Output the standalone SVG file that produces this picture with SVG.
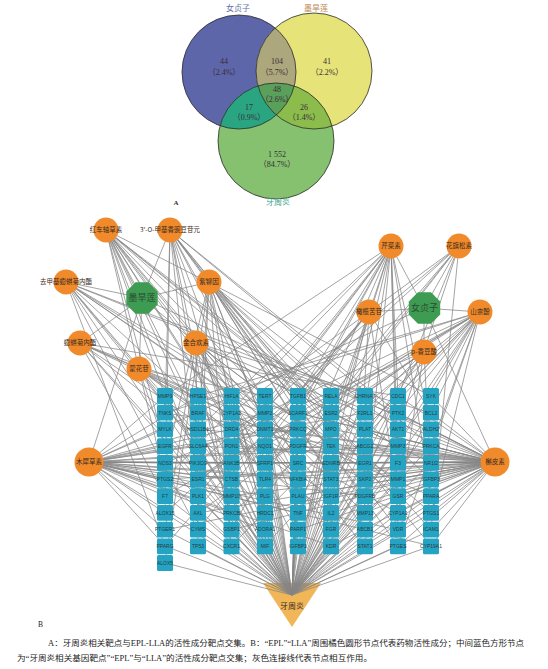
<svg xmlns="http://www.w3.org/2000/svg" xmlns:xlink="http://www.w3.org/1999/xlink" width="548" height="669" viewBox="0 0 548 669">
<style>
.cj{font-family:"Noto Sans CJK SC",sans-serif}
.vn{font-family:"Liberation Serif","Noto Sans CJK SC",serif;font-size:8px;fill:#3a2c3a;text-anchor:middle}
.vo{fill:none;stroke:#2b2b2b;stroke-width:0.8}
.e{fill:none;stroke:#868686;stroke-width:0.75}
.tile{fill:#24a4c2}
.tg text{font-family:"Liberation Sans",Arial,sans-serif;font-size:5px;fill:#2b3b40;text-anchor:middle}
.cp circle{fill:#f08a2a}
.cp text{font-family:"Noto Sans CJK SC",sans-serif;font-size:6.5px;fill:#3a2a20;text-anchor:middle}
.hb polygon{fill:#3d9b52}
.hb text{font-family:"Noto Sans CJK SC",sans-serif;font-size:9px;fill:#2c4a33;text-anchor:middle}
.cap{font-family:"Liberation Serif","Noto Sans CJK SC",serif;font-size:7.5px;fill:#222}
</style>
<defs>
<clipPath id="cB"><circle cx="239" cy="72" r="57"/></clipPath>
<clipPath id="cY"><circle cx="314" cy="71" r="58"/></clipPath>
<clipPath id="cG"><circle cx="276" cy="141" r="58"/></clipPath>
<rect id="tile" class="tile" x="-8" y="-7.9" width="16" height="15.8" rx="1.5"/>
</defs>
<rect width="548" height="669" fill="#fff"/>

<g id="venn">
<circle cx="239" cy="72" r="57" fill="#5d66a9"/>
<circle cx="314" cy="71" r="58" fill="#e6e379"/>
<circle cx="276" cy="141" r="58" fill="#85c16e"/>
<g clip-path="url(#cY)"><circle cx="239" cy="72" r="57" fill="#aca77c"/></g>
<g clip-path="url(#cG)"><circle cx="239" cy="72" r="57" fill="#2aa582"/></g>
<g clip-path="url(#cG)"><circle cx="314" cy="71" r="58" fill="#8cbc4c"/></g>
<g clip-path="url(#cG)"><g clip-path="url(#cY)"><circle cx="239" cy="72" r="57" fill="#5aa05a"/></g></g>
<circle class="vo" cx="239" cy="72" r="57"/>
<circle class="vo" cx="314" cy="71" r="58"/>
<circle class="vo" cx="276" cy="141" r="58"/>
<text class="cj" x="238" y="11" font-size="8" fill="#6670aa" text-anchor="middle">女贞子</text>
<text class="cj" x="316" y="11" font-size="8" fill="#c08a58" text-anchor="middle">墨旱莲</text>
<text class="cj" x="278" y="205" font-size="8" fill="#3aa58a" text-anchor="middle">牙周炎</text>
<text class="vn" x="224" y="64">44</text><text class="vn" x="224" y="75">（2.4%）</text>
<text class="vn" x="277" y="64">104</text><text class="vn" x="277" y="75">（5.7%）</text>
<text class="vn" x="327" y="64">41</text><text class="vn" x="327" y="75">（2.2%）</text>
<text class="vn" x="277" y="92">48</text><text class="vn" x="277" y="102">（2.6%）</text>
<text class="vn" x="249" y="110">17</text><text class="vn" x="249" y="120">（0.9%）</text>
<text class="vn" x="304" y="110">26</text><text class="vn" x="304" y="120">（1.4%）</text>
<text class="vn" x="277" y="157">1 552</text><text class="vn" x="277" y="167">（84.7%）</text>
<text x="176" y="205" font-family="Liberation Serif,serif" font-size="7" font-weight="bold" fill="#333" text-anchor="middle">A</text>
</g>

<polygon id="target-disease-shape" points="263,583 321,583 292,627" fill="#f0b657"/>

<g id="connectors">
<path class="e" d="M142 298 106 230M142 298 170 230M142 298 66 282M142 298 209 282M142 298 80 343M142 298 196 343M142 298 139 369M142 298 89 462M142 298 495 462M424 308 391 246M424 308 459 246M424 308 369 312M424 308 480 312M424 308 424 352M424 308 89 462M424 308 495 462"/>
<path class="e" d="M106 230 165 396M106 230 165 446M106 230 165 479M106 230 198 413M106 230 198 463M106 230 231 429M106 230 231 496M106 230 265 396M106 230 265 446M106 230 298 479M106 230 298 530M106 230 331 413M106 230 331 496M106 230 364 429M106 230 364 546M106 230 398 463M106 230 431 396M106 230 431 513"/>
<path class="e" d="M170 230 165 413M170 230 165 513M170 230 198 396M170 230 198 496M170 230 231 446M170 230 231 530M170 230 265 479M170 230 298 396M170 230 298 463M170 230 331 429M170 230 331 546M170 230 364 496M170 230 398 413M170 230 398 530M170 230 431 446M170 230 431 546"/>
<path class="e" d="M66 282 165 429M66 282 165 546M66 282 198 446M66 282 198 530M66 282 231 396M66 282 231 479M66 282 265 513M66 282 298 429M66 282 298 496M66 282 331 463M66 282 364 396M66 282 398 479M66 282 431 429"/>
<path class="e" d="M209 282 165 463M209 282 165 563M209 282 198 429M209 282 198 513M209 282 231 413M209 282 231 546M209 282 265 429M209 282 265 530M209 282 298 413M209 282 298 513M209 282 331 396M209 282 331 479M209 282 364 446M209 282 364 530M209 282 398 429M209 282 398 546M209 282 431 479M209 282 431 530"/>
<path class="e" d="M80 343 165 496M80 343 198 479M80 343 231 463M80 343 265 413M80 343 265 546M80 343 298 446M80 343 331 513M80 343 364 463M80 343 398 396M80 343 431 496"/>
<path class="e" d="M196 343 165 530M196 343 198 546M196 343 231 513M196 343 265 463M196 343 265 496M196 343 298 546M196 343 331 446M196 343 331 530M196 343 364 413M196 343 364 513M196 343 398 446M196 343 398 496M196 343 431 413M196 343 431 463"/>
<path class="e" d="M139 369 165 446M139 369 198 413M139 369 231 496M139 369 265 396M139 369 298 479M139 369 331 496M139 369 364 479M139 369 398 513"/>
<path class="e" d="M391 246 165 396M391 246 165 479M391 246 198 429M391 246 198 496M391 246 231 446M391 246 231 530M391 246 265 413M391 246 265 479M391 246 298 396M391 246 298 463M391 246 298 546M391 246 331 429M391 246 331 496M391 246 364 413M391 246 364 513M391 246 398 396M391 246 398 463M391 246 398 530M391 246 431 429M391 246 431 496"/>
<path class="e" d="M459 246 165 513M459 246 198 463M459 246 231 413M459 246 265 496M459 246 298 446M459 246 331 396M459 246 364 479M459 246 398 429M459 246 431 530"/>
<path class="e" d="M369 312 165 546M369 312 198 530M369 312 231 479M369 312 265 429M369 312 298 513M369 312 331 463M369 312 364 396M369 312 398 496M369 312 431 413"/>
<path class="e" d="M480 312 165 413M480 312 165 496M480 312 198 396M480 312 198 479M480 312 231 429M480 312 231 513M480 312 265 446M480 312 265 546M480 312 298 413M480 312 298 496M480 312 331 446M480 312 331 530M480 312 364 429M480 312 364 496M480 312 398 413M480 312 398 479M480 312 398 546M480 312 431 396M480 312 431 446M480 312 431 513"/>
<path class="e" d="M424 352 165 463M424 352 198 513M424 352 231 546M424 352 265 463M424 352 298 530M424 352 331 413M424 352 364 446M424 352 398 513M424 352 431 479"/>
<path class="e" d="M89 462 165 396M89 462 165 429M89 462 165 446M89 462 165 463M89 462 165 479M89 462 165 496M89 462 165 513M89 462 165 530M89 462 165 546M89 462 198 396M89 462 198 446M89 462 198 463M89 462 198 479M89 462 198 496M89 462 198 530M89 462 231 429M89 462 231 463M89 462 231 479M89 462 231 513M89 462 265 413M89 462 265 463M89 462 265 496M89 462 265 530M89 462 298 429M89 462 298 479M89 462 298 513M89 462 331 446M89 462 331 479M89 462 331 546M89 462 364 413M89 462 364 463M89 462 364 496M89 462 398 446M89 462 398 530M89 462 431 463M89 462 431 546"/>
<path class="e" d="M495 462 165 413M495 462 165 463M495 462 165 479M495 462 165 530M495 462 198 429M495 462 198 446M495 462 198 479M495 462 198 513M495 462 231 396M495 462 231 446M495 462 231 463M495 462 231 496M495 462 231 530M495 462 265 429M495 462 265 463M495 462 265 479M495 462 265 513M495 462 298 413M495 462 298 446M495 462 298 463M495 462 298 496M495 462 298 530M495 462 331 396M495 462 331 429M495 462 331 446M495 462 331 479M495 462 331 513M495 462 331 546M495 462 364 396M495 462 364 429M495 462 364 446M495 462 364 463M495 462 364 479M495 462 364 513M495 462 364 546M495 462 398 396M495 462 398 413M495 462 398 429M495 462 398 446M495 462 398 463M495 462 398 479M495 462 398 496M495 462 398 513M495 462 398 530M495 462 398 546M495 462 431 396M495 462 431 413M495 462 431 429M495 462 431 446M495 462 431 463M495 462 431 479M495 462 431 496M495 462 431 513M495 462 431 530M495 462 431 546"/>
<path class="e" d="M165 396 292 595M165 413 292 595M165 429 292 595M165 446 292 595M165 463 292 595M165 479 292 595M165 496 292 595M165 513 292 595M165 530 292 595M165 546 292 595M165 563 292 595M198 396 292 595M198 413 292 595M198 429 292 595M198 446 292 595M198 463 292 595M198 479 292 595M198 496 292 595M198 513 292 595M198 530 292 595M198 546 292 595M231 396 292 595M231 413 292 595M231 429 292 595M231 446 292 595M231 463 292 595M231 479 292 595M231 496 292 595M231 513 292 595M231 530 292 595M231 546 292 595M265 396 292 595M265 413 292 595M265 429 292 595M265 446 292 595M265 463 292 595M265 479 292 595M265 496 292 595M265 513 292 595M265 530 292 595M265 546 292 595M298 396 292 595M298 413 292 595M298 429 292 595M298 446 292 595M298 463 292 595M298 479 292 595M298 496 292 595M298 513 292 595M298 530 292 595M298 546 292 595M331 396 292 595M331 413 292 595M331 429 292 595M331 446 292 595M331 463 292 595M331 479 292 595M331 496 292 595M331 513 292 595M331 530 292 595M331 546 292 595M364 396 292 595M364 413 292 595M364 429 292 595M364 446 292 595M364 463 292 595M364 479 292 595M364 496 292 595M364 513 292 595M364 530 292 595M364 546 292 595M398 396 292 595M398 413 292 595M398 429 292 595M398 446 292 595M398 463 292 595M398 479 292 595M398 496 292 595M398 513 292 595M398 530 292 595M398 546 292 595M431 396 292 595M431 413 292 595M431 429 292 595M431 446 292 595M431 463 292 595M431 479 292 595M431 496 292 595M431 513 292 595M431 530 292 595M431 546 292 595"/>
</g>

<g id="targets" class="tg">
<g id="t-MMP9" transform="translate(165 396)"><use href="#tile"/><text y="1.8">MMP9</text></g>
<g id="t-TNKS" transform="translate(165 412.7)"><use href="#tile"/><text y="1.8">TNKS</text></g>
<g id="t-MYLK" transform="translate(165 429.4)"><use href="#tile"/><text y="1.8">MYLK</text></g>
<g id="t-EGFR" transform="translate(165 446.1)"><use href="#tile"/><text y="1.8">EGFR</text></g>
<g id="t-NOS3" transform="translate(165 462.8)"><use href="#tile"/><text y="1.8">NOS3</text></g>
<g id="t-PTGS2" transform="translate(165 479.5)"><use href="#tile"/><text y="1.8">PTGS2</text></g>
<g id="t-F7" transform="translate(165 496.2)"><use href="#tile"/><text y="1.8">F7</text></g>
<g id="t-ALOX15" transform="translate(165 512.9)"><use href="#tile"/><text y="1.8">ALOX15</text></g>
<g id="t-PTGER1" transform="translate(165 529.6)"><use href="#tile"/><text y="1.8">PTGER1</text></g>
<g id="t-PPARG" transform="translate(165 546.3)"><use href="#tile"/><text y="1.8">PPARG</text></g>
<g id="t-ALOX5" transform="translate(165 563)"><use href="#tile"/><text y="1.8">ALOX5</text></g>

<g id="t-HPSE1" transform="translate(198 396)"><use href="#tile"/><text y="1.8">HPSE1</text></g>
<g id="t-BRAF" transform="translate(198 412.7)"><use href="#tile"/><text y="1.8">BRAF</text></g>
<g id="t-HSD11B1" transform="translate(198 429.4)"><use href="#tile"/><text y="1.8">HSD11B1</text></g>
<g id="t-SLC6A4" transform="translate(198 446.1)"><use href="#tile"/><text y="1.8">SLC6A4</text></g>
<g id="t-PIK3CG" transform="translate(198 462.8)"><use href="#tile"/><text y="1.8">PIK3CG</text></g>
<g id="t-ESR1" transform="translate(198 479.5)"><use href="#tile"/><text y="1.8">ESR1</text></g>
<g id="t-PLK1" transform="translate(198 496.2)"><use href="#tile"/><text y="1.8">PLK1</text></g>
<g id="t-AXL" transform="translate(198 512.9)"><use href="#tile"/><text y="1.8">AXL</text></g>
<g id="t-CYMS" transform="translate(198 529.6)"><use href="#tile"/><text y="1.8">CYMS</text></g>
<g id="t-TP53" transform="translate(198 546.3)"><use href="#tile"/><text y="1.8">TP53</text></g>

<g id="t-HIF1A" transform="translate(231.5 396)"><use href="#tile"/><text y="1.8">HIF1A</text></g>
<g id="t-CYP1A2" transform="translate(231.5 412.7)"><use href="#tile"/><text y="1.8">CYP1A2</text></g>
<g id="t-DRD4" transform="translate(231.5 429.4)"><use href="#tile"/><text y="1.8">DRD4</text></g>
<g id="t-PON1" transform="translate(231.5 446.1)"><use href="#tile"/><text y="1.8">PON1</text></g>
<g id="t-ANK3B" transform="translate(231.5 462.8)"><use href="#tile"/><text y="1.8">ANK3B</text></g>
<g id="t-CTSB" transform="translate(231.5 479.5)"><use href="#tile"/><text y="1.8">CTSB</text></g>
<g id="t-MMP10" transform="translate(231.5 496.2)"><use href="#tile"/><text y="1.8">MMP10</text></g>
<g id="t-PRKCB" transform="translate(231.5 512.9)"><use href="#tile"/><text y="1.8">PRKCB</text></g>
<g id="t-GSBP1" transform="translate(231.5 529.6)"><use href="#tile"/><text y="1.8">GSBP1</text></g>
<g id="t-CXCR1" transform="translate(231.5 546.3)"><use href="#tile"/><text y="1.8">CXCR1</text></g>

<g id="t-TERT" transform="translate(265 396)"><use href="#tile"/><text y="1.8">TERT</text></g>
<g id="t-MMP2" transform="translate(265 412.7)"><use href="#tile"/><text y="1.8">MMP2</text></g>
<g id="t-DNMT1" transform="translate(265 429.4)"><use href="#tile"/><text y="1.8">DNMT1</text></g>
<g id="t-NQO1" transform="translate(265 446.1)"><use href="#tile"/><text y="1.8">NQO1</text></g>
<g id="t-SFRP1" transform="translate(265 462.8)"><use href="#tile"/><text y="1.8">SFRP1</text></g>
<g id="t-TLR4" transform="translate(265 479.5)"><use href="#tile"/><text y="1.8">TLR4</text></g>
<g id="t-PLG" transform="translate(265 496.2)"><use href="#tile"/><text y="1.8">PLG</text></g>
<g id="t-HRDC1" transform="translate(265 512.9)"><use href="#tile"/><text y="1.8">HRDC1</text></g>
<g id="t-ADORA1" transform="translate(265 529.6)"><use href="#tile"/><text y="1.8">ADORA1</text></g>
<g id="t-MIF" transform="translate(265 546.3)"><use href="#tile"/><text y="1.8">MIF</text></g>

<g id="t-TGFB1" transform="translate(298 396)"><use href="#tile"/><text y="1.8">TGFB1</text></g>
<g id="t-SCARF1" transform="translate(298 412.7)"><use href="#tile"/><text y="1.8">SCARF1</text></g>
<g id="t-PRKCQ" transform="translate(298 429.4)"><use href="#tile"/><text y="1.8">PRKCQ</text></g>
<g id="t-PDGFR" transform="translate(298 446.1)"><use href="#tile"/><text y="1.8">PDGFR</text></g>
<g id="t-SRC" transform="translate(298 462.8)"><use href="#tile"/><text y="1.8">SRC</text></g>
<g id="t-NFKBIA" transform="translate(298 479.5)"><use href="#tile"/><text y="1.8">NFKBIA</text></g>
<g id="t-PLAU" transform="translate(298 496.2)"><use href="#tile"/><text y="1.8">PLAU</text></g>
<g id="t-TNF" transform="translate(298 512.9)"><use href="#tile"/><text y="1.8">TNF</text></g>
<g id="t-PARP1" transform="translate(298 529.6)"><use href="#tile"/><text y="1.8">PARP1</text></g>
<g id="t-IGFBP1" transform="translate(298 546.3)"><use href="#tile"/><text y="1.8">IGFBP1</text></g>

<g id="t-RELA" transform="translate(331 396)"><use href="#tile"/><text y="1.8">RELA</text></g>
<g id="t-ESR2" transform="translate(331 412.7)"><use href="#tile"/><text y="1.8">ESR2</text></g>
<g id="t-MPO" transform="translate(331 429.4)"><use href="#tile"/><text y="1.8">MPO</text></g>
<g id="t-TEK" transform="translate(331 446.1)"><use href="#tile"/><text y="1.8">TEK</text></g>
<g id="t-EDNRB" transform="translate(331 462.8)"><use href="#tile"/><text y="1.8">EDNRB</text></g>
<g id="t-STAT3" transform="translate(331 479.5)"><use href="#tile"/><text y="1.8">STAT3</text></g>
<g id="t-IGF1R" transform="translate(331 496.2)"><use href="#tile"/><text y="1.8">IGF1R</text></g>
<g id="t-IL2" transform="translate(331 512.9)"><use href="#tile"/><text y="1.8">IL2</text></g>
<g id="t-FGR" transform="translate(331 529.6)"><use href="#tile"/><text y="1.8">FGR</text></g>
<g id="t-KDR" transform="translate(331 546.3)"><use href="#tile"/><text y="1.8">KDR</text></g>

<g id="t-CHRNA7" transform="translate(365 396)"><use href="#tile"/><text y="1.8">CHRNA7</text></g>
<g id="t-F2RL1" transform="translate(365 412.7)"><use href="#tile"/><text y="1.8">F2RL1</text></g>
<g id="t-PLAT" transform="translate(365 429.4)"><use href="#tile"/><text y="1.8">PLAT</text></g>
<g id="t-ABCG2" transform="translate(365 446.1)"><use href="#tile"/><text y="1.8">ABCG2</text></g>
<g id="t-EGR1" transform="translate(365 462.8)"><use href="#tile"/><text y="1.8">EGR1</text></g>
<g id="t-SKP2" transform="translate(365 479.5)"><use href="#tile"/><text y="1.8">SKP2</text></g>
<g id="t-PDGFRB" transform="translate(365 496.2)"><use href="#tile"/><text y="1.8">PDGFRB</text></g>
<g id="t-MMP13" transform="translate(365 512.9)"><use href="#tile"/><text y="1.8">MMP13</text></g>
<g id="t-ABCB1" transform="translate(365 529.6)"><use href="#tile"/><text y="1.8">ABCB1</text></g>
<g id="t-STAT1" transform="translate(365 546.3)"><use href="#tile"/><text y="1.8">STAT1</text></g>

<g id="t-CDC1" transform="translate(398 396)"><use href="#tile"/><text y="1.8">CDC1</text></g>
<g id="t-PTK2" transform="translate(398 412.7)"><use href="#tile"/><text y="1.8">PTK2</text></g>
<g id="t-AKT1" transform="translate(398 429.4)"><use href="#tile"/><text y="1.8">AKT1</text></g>
<g id="t-MMP3" transform="translate(398 446.1)"><use href="#tile"/><text y="1.8">MMP3</text></g>
<g id="t-F3" transform="translate(398 462.8)"><use href="#tile"/><text y="1.8">F3</text></g>
<g id="t-MMP1" transform="translate(398 479.5)"><use href="#tile"/><text y="1.8">MMP1</text></g>
<g id="t-GSR" transform="translate(398 496.2)"><use href="#tile"/><text y="1.8">GSR</text></g>
<g id="t-CYP1A1" transform="translate(398 512.9)"><use href="#tile"/><text y="1.8">CYP1A1</text></g>
<g id="t-VDR" transform="translate(398 529.6)"><use href="#tile"/><text y="1.8">VDR</text></g>
<g id="t-PTGES" transform="translate(398 546.3)"><use href="#tile"/><text y="1.8">PTGES</text></g>

<g id="t-SYK" transform="translate(431 396)"><use href="#tile"/><text y="1.8">SYK</text></g>
<g id="t-BCL2" transform="translate(431 412.7)"><use href="#tile"/><text y="1.8">BCL2</text></g>
<g id="t-ALDH2" transform="translate(431 429.4)"><use href="#tile"/><text y="1.8">ALDH2</text></g>
<g id="t-PRKCA" transform="translate(431 446.1)"><use href="#tile"/><text y="1.8">PRKCA</text></g>
<g id="t-NR1I2" transform="translate(431 462.8)"><use href="#tile"/><text y="1.8">NR1I2</text></g>
<g id="t-IGFBP3" transform="translate(431 479.5)"><use href="#tile"/><text y="1.8">IGFBP3</text></g>
<g id="t-PPARA" transform="translate(431 496.2)"><use href="#tile"/><text y="1.8">PPARA</text></g>
<g id="t-PTGS1" transform="translate(431 512.9)"><use href="#tile"/><text y="1.8">PTGS1</text></g>
<g id="t-ICAM1" transform="translate(431 529.6)"><use href="#tile"/><text y="1.8">ICAM1</text></g>
<g id="t-CYP19A1" transform="translate(431 546.3)"><use href="#tile"/><text y="1.8">CYP19A1</text></g>
</g>

<g id="compounds" class="cp">
<g id="c-pratensein" transform="translate(106 230)"><circle r="12.5"/><text y="2.3">红车轴草素</text></g>
<g id="c-methylorobol" transform="translate(170 230)"><circle r="12.5"/><text y="2.3" font-size="6.3">3'-O-甲基香豌豆苷元</text></g>
<g id="c-demethylwedelolactone" transform="translate(66 282)"><circle r="12.5"/><text y="2.3">去甲基蟛蜞菊内酯</text></g>
<g id="c-butein" transform="translate(209 282)"><circle r="12.5"/><text y="2.3">紫铆因</text></g>
<g id="c-wedelolactone" transform="translate(80 343)"><circle r="12.5"/><text y="2.3">蟛蜞菊内酯</text></g>
<g id="c-acacetin" transform="translate(196 343)"><circle r="12.5"/><text y="2.3">金合欢素</text></g>
<g id="c-linarin" transform="translate(139 369)"><circle r="12.5"/><text y="2.3">蒙花苷</text></g>
<g id="c-apigenin" transform="translate(391 246)"><circle r="12.5"/><text y="2.3">芹菜素</text></g>
<g id="c-taxifolin" transform="translate(459 246)"><circle r="12.5"/><text y="2.3">花旗松素</text></g>
<g id="c-oleuropein" transform="translate(369 312)"><circle r="12.5"/><text y="2.3">橄榄苦苷</text></g>
<g id="c-kaempferol" transform="translate(480 312)"><circle r="12.5"/><text y="2.3">山柰酚</text></g>
<g id="c-coumaric" transform="translate(424 352)"><circle r="12.5"/><text y="2.3">p-香豆酸</text></g>
<g id="c-luteolin" transform="translate(89 462)"><circle r="14.5"/><text y="2.3">木犀草素</text></g>
<g id="c-quercetin" transform="translate(495 462)"><circle r="14.5"/><text y="2.3">槲皮素</text></g>
</g>

<g id="herbs" class="hb">
<g id="h-EPL"><polygon points="148.5,282.3 157.7,291.5 157.7,304.5 148.5,313.7 135.5,313.7 126.3,304.5 126.3,291.5 135.5,282.3"/><text x="142" y="301.2">墨旱莲</text></g>
<g id="h-LLA"><polygon points="431,292.3 440.2,301.5 440.2,314.5 431,323.7 418,323.7 408.8,314.5 408.8,301.5 418,292.3"/><text x="424.5" y="311.2">女贞子</text></g>
</g>

<g id="disease"><text x="292" y="609" font-family="Noto Sans CJK SC,sans-serif" font-size="8" fill="#3a2a20" text-anchor="middle">牙周炎</text></g>

<g id="caption">
<text class="cap" x="38" y="627" font-size="7">B</text>
<text class="cap" x="48" y="646" textLength="476" lengthAdjust="spacingAndGlyphs">A：牙周炎相关靶点与EPL-LLA的活性成分靶点交集。B：“EPL”“LLA”周围橘色圆形节点代表药物活性成分；中间蓝色方形节点</text>
<text class="cap" x="17" y="661" textLength="355" lengthAdjust="spacingAndGlyphs">为“牙周炎相关基因靶点”“EPL”与“LLA”的活性成分靶点交集；灰色连接线代表节点相互作用。</text>
</g>
</svg>
